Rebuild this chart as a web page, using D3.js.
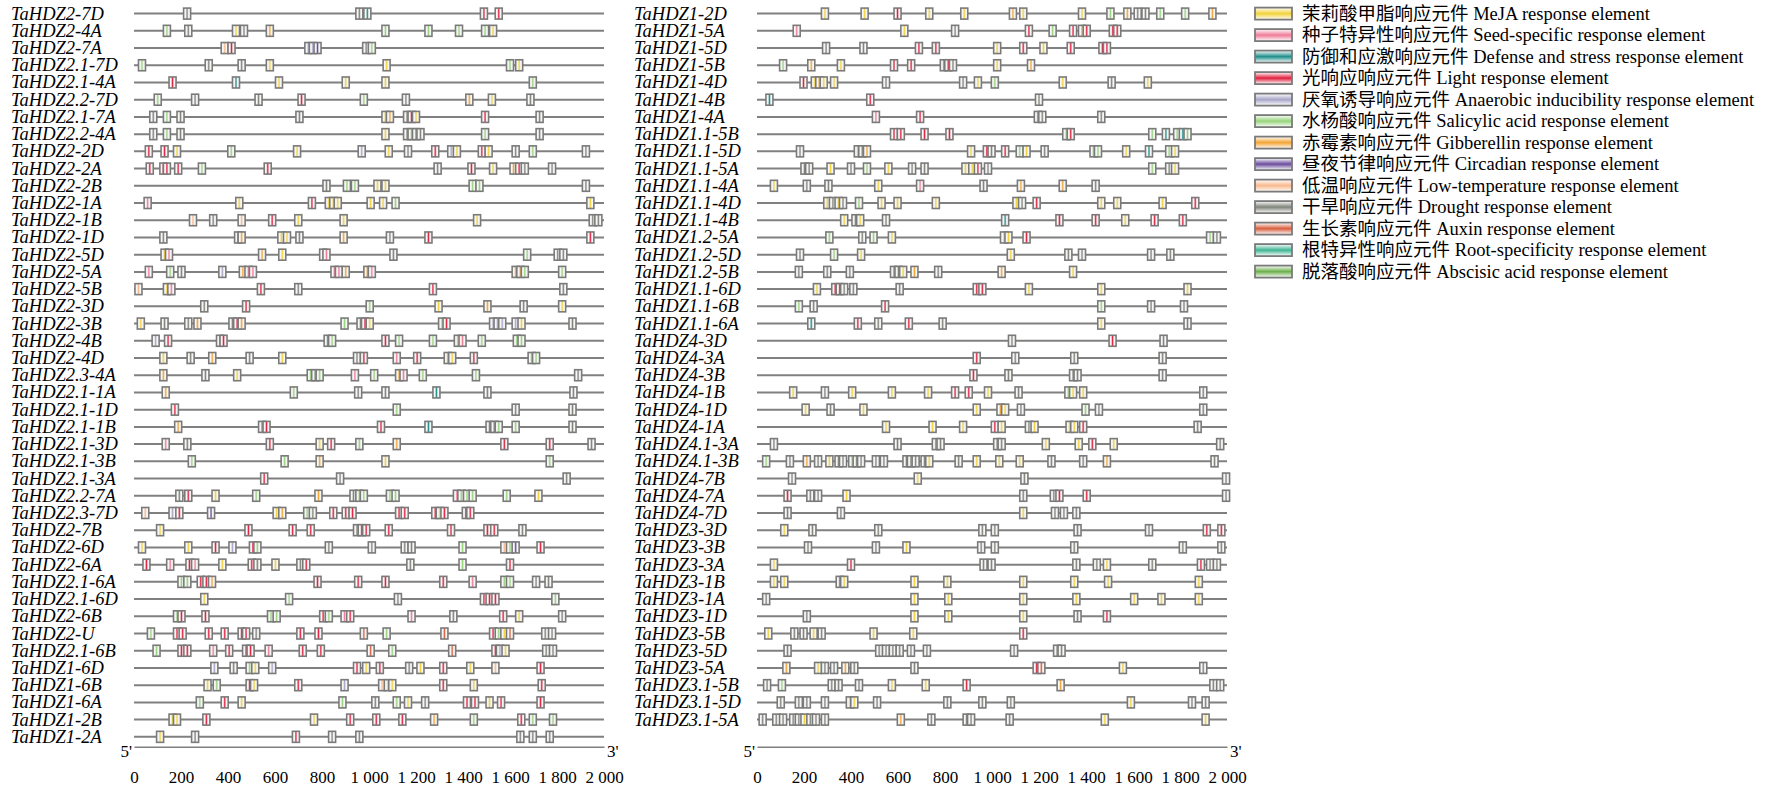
<!DOCTYPE html>
<html><head><meta charset="utf-8">
<script src="https://cdn.jsdelivr.net/npm/d3@7"></script>
<style>body{margin:0;background:#fff}svg{display:block}</style>
</head><body><div id="chart"></div>
<script>
// element types: code, legend name, colour
const typeCodes = ["Y","S","D","L","A","C","G","R","T","W","X","O","B"];
const typeNames = ["茉莉酸甲脂响应元件 MeJA response element","种子特异性响应元件 Seed-specific response element",
  "防御和应激响应元件 Defense and stress response element","光响应响应元件 Light response element",
  "厌氧诱导响应元件 Anaerobic inducibility response element","水杨酸响应元件 Salicylic acid response element",
  "赤霉素响应元件 Gibberellin response element","昼夜节律响应元件 Circadian response element",
  "低温响应元件 Low-temperature response element","干旱响应元件 Drought  response element",
  "生长素响应元件 Auxin response element","根特异性响应元件 Root-specificity response element",
  "脱落酸响应元件 Abscisic acid response element"];
const typeColors = ["#f2d23a","#f07c98","#1f8f8a","#e0203e","#a9a6c8","#96d47a","#f3a535","#6a4c9c",
  "#f9b98e","#7f8479","#d8603e","#3fb493","#6cb04c"];
const tickValues = [0,200,400,600,800,1000,1200,1400,1600,1800,2000];

const leftGenes = ["TaHDZ2-7D","TaHDZ2-4A","TaHDZ2-7A","TaHDZ2.1-7D","TaHDZ2.1-4A","TaHDZ2.2-7D","TaHDZ2.1-7A","TaHDZ2.2-4A",
  "TaHDZ2-2D","TaHDZ2-2A","TaHDZ2-2B","TaHDZ2-1A","TaHDZ2-1B","TaHDZ2-1D","TaHDZ2-5D","TaHDZ2-5A","TaHDZ2-5B","TaHDZ2-3D",
  "TaHDZ2-3B","TaHDZ2-4B","TaHDZ2-4D","TaHDZ2.3-4A","TaHDZ2.1-1A","TaHDZ2.1-1D","TaHDZ2.1-1B","TaHDZ2.1-3D","TaHDZ2.1-3B",
  "TaHDZ2.1-3A","TaHDZ2.2-7A","TaHDZ2.3-7D","TaHDZ2-7B","TaHDZ2-6D","TaHDZ2-6A","TaHDZ2.1-6A","TaHDZ2.1-6D","TaHDZ2-6B",
  "TaHDZ2-U","TaHDZ2.1-6B","TaHDZ1-6D","TaHDZ1-6B","TaHDZ1-6A","TaHDZ1-2B","TaHDZ1-2A"];
const leftElems = [
  "226W 959W 993D 1489L 1552L",
  "140C 231W 434Y 468W 578G 1070C 1253C 1383C 1494C 1528Y",
  "386T 415L 742A 761A 781R 988W 1012C",
  "34C 318W 458W 578Y 1075Y 1600C 1639Y",
  "164L 434D 617Y 901Y 1070Y 1697C",
  "101C 260W 530W 713L 978C 1157W 1427G 1523Y 1687W",
  "82W 140C 198W 704W 1070Y 1089G 1162W 1181L 1200Y 1494L 1726W",
  "82W 140C 198W 1070Y 1162W 1181C 1200W 1219W 1494C 1726W",
  "63L 130L 183Y 414C 694Y 969A 1084Y 1166W 1282L 1350A 1374Y 1480L 1509Y 1624W 1697C 1923W",
  "67L 125L 140L 188L 289C 569L 1292W 1436L 1528Y 1615G 1639L 1663W 1779W",
  "819W 906C 940C 1036Y 1070Y 1441C 1470C 1923W",
  "58S 448Y 757L 829Y 848Y 867Y 1007Y 1060Y 1113C 1942Y",
  "251T 337W 458T 588L 699Y 892Y 1460Y 1952W 1976W",
  "125W 443D 458G 627Y 651Y 704W 892G 1089W 1253L 1942L",
  "130Y 149S 545G 631Y 805S 819S 1104W 1673C 1803W 1827W",
  "63S 154C 202W 376A 463G 487S 506S 853S 872S 901G 993G 1012S 1624G 1644G 1663C 1822C",
  "19T 140Y 159S 540L 699W 1272L 1827W",
  "299W 477L 1003C 1296Y 1504G 1658W 1822Y",
  "29Y 130W 231W 270G 419W 439L 458G 896C 964W 983L 1003Y 1311C 1330L 1528A 1547A 1567A 1624A 1649Y 1866W",
  "92A 145L 366W 381L 824W 843C 1070L 1128C 1272C 1378G 1398S 1480C 1629C 1649C",
  "125Y 241W 333G 492W 631Y 949W 978L 1118S 1205L 1335G 1354Y 1446L 1692C 1711C",
  "125G 304W 439Y 752C 771W 790C 940S 1022C 1128G 1147S 1229C 1455C 1890W",
  "135G 680C 954W 1070W 1287D 1504W 1870W",
  "174L 1118C 1624W 1866W",
  "188G 545W 564L 1051L 1253D 1513W 1533W 1552C 1624C 1866W",
  "135S 227W 578L 790Y 839L 959C 1118G 1576L 1769L 1947W",
  "246C 641C 790G 1070Y 1769C",
  "554L 877W 1841W",
  "193W 231L 347Y 520C 785G 934W 959C 978C 1089C 1113C 1374S 1393C 1417C 1441C 1586C 1721Y",
  "48T 164A 193L 328R 607Y 631G 737C 761W 848L 901L 930L 1128L 1152L 1282L 1301Y 1321L 1412L 1431L",
  "111Y 487L 675L 752L 949W 969L 988L 1084L 1349L 1504L 1533L 1653W",
  "34Y 231Y 347L 419A 506L 525C 829W 1012W 1152W 1181W 1398C 1576T 1600C 1624R 1730L",
  "53L 154S 236L 260S 376Y 501L 525W 602Y 708W 733L 1176W 1398C 1600L",
  "202C 227C 284L 308L 332G 781L 954L 1070L 1316L 1441S 1576C 1600C 1711W 1764W",
  "299Y 660C 1123W 1489L 1513L 1538L 1793C",
  "183C 202L 304L 583C 607C 805L 829C 896S 920L 1181S 1359W 1571L 1639Y 1822W",
  "72C 183L 207L 318L 386L 458L 477L 520W 708L 785L 978X 1075C 1321X 1528L 1552C 1576Y 1600X 1750W 1779W",
  "96C 202L 227L 337S 405L 477L 496L 573S 718L 795L 1007X 1099C 1354X 1538L 1557A 1581Y 1754W 1783W",
  "342A 424W 492C 516Y 588A 949L 988Y 1046L 1171W 1219Y 1316L 1431Y 1538T 1730L",
  "313Y 352C 492L 511Y 699L 896A 1056T 1080Y 1099Y 1316L 1446Y 1735L",
  "280C 386L 458Y 887C 1027W 1118C 1166Y 1239W 1417L 1451L 1513Y 1562L 1730L",
  "164Y 183Y 308L 766Y 920L 1031L 1142L 1277G 1446C 1648L 1697C 1783C",
  "111Y 260W 689L 843W 959W 1644W 1697W 1769W"];

const rightGenes = ["TaHDZ1-2D","TaHDZ1-5A","TaHDZ1-5D","TaHDZ1-5B","TaHDZ1-4D","TaHDZ1-4B","TaHDZ1-4A","TaHDZ1.1-5B",
  "TaHDZ1.1-5D","TaHDZ1.1-5A","TaHDZ1.1-4A","TaHDZ1.1-4D","TaHDZ1.1-4B","TaHDZ1.2-5A","TaHDZ1.2-5D","TaHDZ1.2-5B",
  "TaHDZ1.1-6D","TaHDZ1.1-6B","TaHDZ1.1-6A","TaHDZ4-3D","TaHDZ4-3A","TaHDZ4-3B","TaHDZ4-1B","TaHDZ4-1D","TaHDZ4-1A",
  "TaHDZ4.1-3A","TaHDZ4.1-3B","TaHDZ4-7B","TaHDZ4-7A","TaHDZ4-7D","TaHDZ3-3D","TaHDZ3-3B","TaHDZ3-3A","TaHDZ3-1B",
  "TaHDZ3-1A","TaHDZ3-1D","TaHDZ3-5B","TaHDZ3-5D","TaHDZ3-5A","TaHDZ3.1-5B","TaHDZ3.1-5D","TaHDZ3.1-5A"];
const rightElems = [
  "289Y 458Y 598L 733Y 882Y 1089G 1133Y 1383Y 1504C 1576G 1620W 1653W 1716C 1822C 1938G",
  "169S 627Y 843W 1157L 1258C 1345L 1383G 1403L 1514L 1533L",
  "294W 453W 689L 761L 1022Y 1133L 1219Y 1335L 1470L 1489L",
  "111C 231G 357Y 583L 656L 795W 814L 834W 1022Y 1166G",
  "198L 246Y 265G 284Y 328Y 549W 877W 940Y 1012C 1301Y 1509W 1663Y",
  "53D 482L 1200W",
  "506S 694L 1195W 1214W 1465W",
  "583L 612L 713L 819L 1316C 1335L 1682C 1740D 1788C 1812D 1832C",
  "183W 429G 448W 468G 911Y 978L 998W 1056L 1118C 1147Y 1224W 1432C 1451C 1571Y 1668D 1754C 1779Y",
  "202W 222W 313Y 400W 468C 559Y 660W 713W 887Y 916Y 940L 983W 1682C 1754W 1779Y",
  "72Y 212W 304W 516Y 694S 964W 1123G 1301G 1441W",
  "299Y 323W 347Y 366W 434C 530Y 598Y 761Y 1104Y 1128W 1190L 1465Y 1533Y 1726Y 1865L",
  "371Y 419W 439Y 549W 1056D 1287L 1441L 1567Y 1692L 1812L",
  "308C 448W 496C 574Y 1051Y 1070Y 1147L 1928C 1957W",
  "183W 328C 443Y 1080Y 1325W 1383W 1677W 1759W",
  "178W 299W 395W 583W 602W 622Y 670G 771W 1041G 1345Y",
  "255Y 333L 352L 371W 410W 607W 935L 959L 1157Y 1465Y 1832Y",
  "178C 241W 545L 1465C 1677W 1817W",
  "231D 429L 516W 646L 790W 1465Y 1832W",
  "1085W 1513L 1730W",
  "935L 1099W 1350W 1726W",
  "921L 1070W 1345W 1364W 1726W",
  "154Y 289W 405Y 574Y 728Y 843L 901L 983Y 1113W 1325C 1345Y 1388Y 1899W",
  "207Y 313W 453Y 935Y 1036G 1056Y 1123W 1398C 1455W 1899W",
  "549Y 747Y 877Y 1012L 1041Y 1157W 1181Y 1330Y 1350Y 1388L 1875W",
  "72W 598W 761W 781W 1022W 1041W 1229Y 1369Y 1427L 1518Y 1971W",
  "39C 140W 212G 260W 308Y 347W 366W 405C 424W 443W 506W 540W 636W 655W 675W 713W 733Y 858W 935Y 1031Y 1118Y 1253W 1388W 1489G 1947W",
  "149W 684Y 1138W 1996W",
  "130L 227W 260W 381Y 1133W 1263W 1287L 1403L 1996W",
  "130W 357W 1133Y 1268W 1306W 1359W",
  "116Y 236W 516W 959W 1012W 1364W 1668W 1914L 1976L",
  "217W 506W 636Y 954W 1012W 1350W 1812W 1976W",
  "72Y 400L 964W 998W 1359W 1446W 1489Y 1682W 1889L 1928W 1957W",
  "72Y 116Y 352W 371Y 670Y 810Y 1133Y 1350Y 1494Y 1880Y",
  "39W 670Y 814Y 1133Y 1359Y 1605Y 1721Y 1880Y",
  "212W 670Y 814Y 1133Y 1364W 1489L",
  "48Y 159W 198W 241Y 275W 496Y 665Y 1133L",
  "130W 520W 549W 578W 607W 655W 723W 1094W 1277W 1296W",
  "125G 260Y 289W 328W 376G 414W 670W 1190L 1210X 1557Y 1899W",
  "43W 106C 318W 347W 434W 574Y 718Y 892L 1292G 1942W 1971W",
  "101W 178W 212W 289W 395Y 414Y 511W 810W 959W 1080W 1591Y 1851W 1909W",
  "24W 82W 111W 154W 178W 202Y 227W 251W 289W 612G 742W 892W 911W 1075W 1480Y 1909Y"];

const W = 1772, H = 792;
const svg = d3.select("#chart").append("svg").attr("width", W).attr("height", H);
const defs = svg.append("defs");
const stops = c => [[0, "#ffffff"], [0.3, "#f4f4f4"], [0.5, c], [0.7, "#f4f4f4"], [1, "#ffffff"]];
typeCodes.forEach((c, i) => {
  // box gradient: white edges, coloured centre stripe
  const g = defs.append("linearGradient").attr("id", "h" + c);
  stops(typeColors[i]).forEach(([o, col]) => g.append("stop").attr("offset", o).attr("stop-color", col));
  const v = defs.append("linearGradient").attr("id", "v" + c).attr("x2", 0).attr("y2", 1);
  [[0, "#ffffff"], [0.5, typeColors[i]], [1, "#ffffff"]].forEach(([o, col]) =>
    v.append("stop").attr("offset", o).attr("stop-color", col));
});

const parse = s => s.split(" ").map(t => ({pos: +t.slice(0, -1), type: t.slice(-1)}));
const rowStep = 17.22, rowTop = 13.6;

function panel(genes, elems, x0, x1) {
  const x = d3.scaleLinear().domain([0, 2000]).range([x0, x1]);
  const y = i => rowTop + i * rowStep;
  const g = svg.append("g");
  genes.forEach((name, i) => {
    const row = g.append("g").attr("transform", `translate(0,${y(i)})`);
    row.append("text").attr("x", 11 + (x0 - 134)).attr("y", 6)
      .attr("font-family", "Liberation Serif").attr("font-style", "italic").attr("font-size", 18.5).text(name);
    row.append("line").attr("x1", x0).attr("x2", x1).attr("stroke", "#808080").attr("stroke-width", 2);
    row.selectAll("rect").data(parse(elems[i])).join("rect")
      .attr("x", d => x(d.pos) - 3.5).attr("y", -5.5).attr("width", 7).attr("height", 11)
      .attr("fill", d => `url(#h${d.type})`).attr("stroke", "#7a7a7a").attr("stroke-width", 1.6);
  });
  const ay = rowTop + 42 * rowStep + 10;
  const axis = d3.axisBottom(x).tickValues(tickValues).tickSize(0).tickPadding(24)
    .tickFormat(d => d >= 1000 ? d3.format(",")(d).replace(",", " ") : d);
  const ag = g.append("g").attr("transform", `translate(0,${ay})`).call(axis);
  ag.select(".domain").attr("stroke", "#808080").attr("stroke-width", 1.5);
  ag.selectAll("text").attr("font-family", "Liberation Serif").attr("font-size", 17).attr("fill", "#000");
  g.append("text").attr("x", x0 - 2).attr("y", ay + 10).attr("text-anchor", "end")
    .attr("font-family", "Liberation Serif").attr("font-size", 17).text("5'");
  g.append("text").attr("x", x1 + 3).attr("y", ay + 10)
    .attr("font-family", "Liberation Serif").attr("font-size", 17).text("3'");
}
panel(leftGenes, leftElems, 134, 604);
panel(rightGenes, rightElems, 757, 1227);

const lg = svg.append("g").attr("transform", "translate(1255,13.6)");
typeCodes.forEach((c, i) => {
  const r = lg.append("g").attr("transform", `translate(0,${i * 21.5})`);
  r.append("rect").attr("x", 0).attr("y", -6).attr("width", 37).attr("height", 12)
    .attr("fill", `url(#v${c})`).attr("stroke", "#7a7a7a").attr("stroke-width", 1.8);
  r.append("text").attr("x", 47).attr("y", 6).attr("font-family", "Liberation Serif, Noto Sans CJK SC")
    .attr("font-size", 18.5).text(typeNames[i]);
});
</script></body></html>
